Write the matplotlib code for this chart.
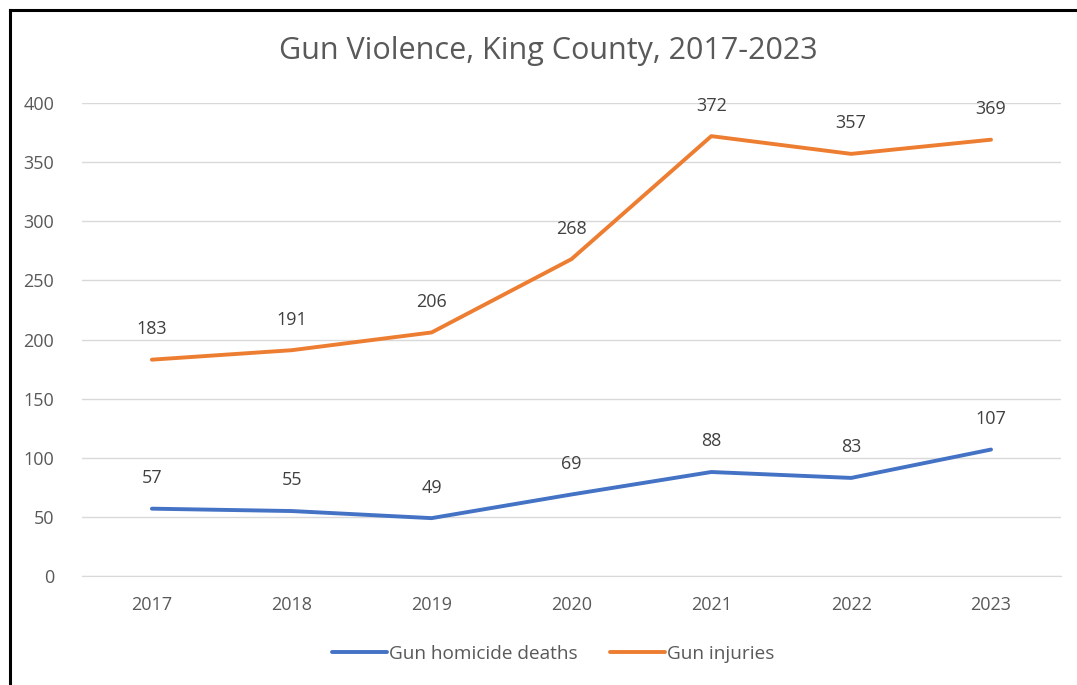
import matplotlib.pyplot as plt
from matplotlib.lines import Line2D

years = ["2017", "2018", "2019", "2020", "2021", "2022", "2023"]
deaths = [57, 55, 49, 69, 88, 83, 107]
injuries = [183, 191, 206, 268, 372, 357, 369]
yticks = [0, 50, 100, 150, 200, 250, 300, 350, 400]

plt.rcParams["font.family"] = ["Open Sans", "DejaVu Sans"]
grey = "#595959"

fig = plt.figure(figsize=(10.77, 6.85), dpi=100)
ax = fig.add_axes([0.0761, 0.159, 0.909, 0.6906])

x = range(len(years))
ax.plot(x, deaths, color="#4472C4", lw=2.8, label="Gun homicide deaths", solid_capstyle="round")
ax.plot(x, injuries, color="#ED7D31", lw=2.8, label="Gun injuries", solid_capstyle="round")

for series in (deaths, injuries):
    for i, v in enumerate(series):
        ax.annotate(str(v), (i, v), xytext=(0, 22), textcoords="offset points",
                    ha="center", va="center", fontsize=13, color="#404040")

ax.set_xlim(-0.5, len(years) - 0.5)
ax.set_ylim(0, 400)
ax.set_yticks(yticks)
ax.set_xticks(list(x))
ax.set_xticklabels(years)
ax.tick_params(length=0, labelsize=13, colors=grey, pad=14)
ax.tick_params(axis="y", pad=20)
ax.grid(axis="y", color="#D9D9D9", lw=1)
ax.set_axisbelow(True)
for s in ["top", "right", "left"]:
    ax.spines[s].set_visible(False)
ax.spines["bottom"].set_color("#D9D9D9")

fig.text(0.509, 0.926, "Gun Violence, King County, 2017-2023", ha="center", va="center",
         fontsize=22, color=grey)

ax.legend(loc="center", bbox_to_anchor=(0.481, -0.165), ncol=2, frameon=False,
          fontsize=13.7, labelcolor=grey, handlelength=2.9, handletextpad=0.1, columnspacing=1.7)

# black frame around the chart (cropped at right/bottom)
fig.add_artist(Line2D([0.0093, 0.0093], [0, 0.986], color="black", lw=2.2, transform=fig.transFigure))
fig.add_artist(Line2D([0.0093, 1], [0.986, 0.986], color="black", lw=2.2, transform=fig.transFigure))

fig.savefig("out.png", dpi=100)
